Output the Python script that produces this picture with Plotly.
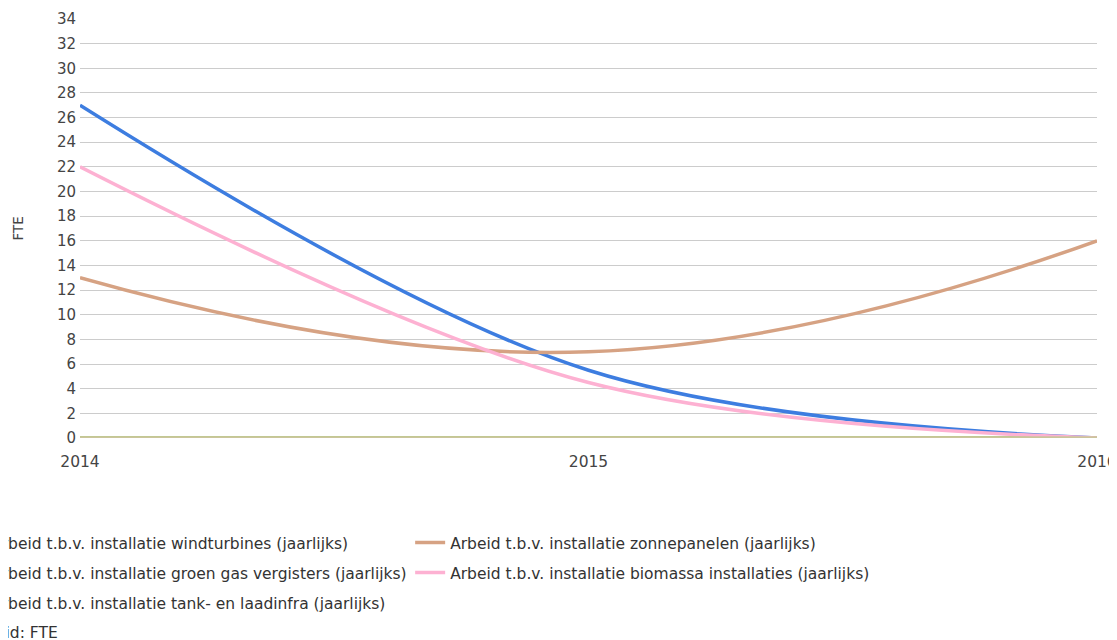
import plotly.graph_objects as go

# Data (FTE per year)
years = [2014, 2015, 2016]
windturbines = [27, 5.5, 0]
zonnepanelen = [13, 7, 16]
groen_gas = [0, 0, 0]
biomassa = [22, 4.5, 0]
tank_laadinfra = [0, 0, 0]

names = [
    "Arbeid t.b.v. installatie windturbines (jaarlijks)",
    "Arbeid t.b.v. installatie zonnepanelen (jaarlijks)",
    "Arbeid t.b.v. installatie groen gas vergisters (jaarlijks)",
    "Arbeid t.b.v. installatie biomassa installaties (jaarlijks)",
    "Arbeid t.b.v. installatie tank- en laadinfra (jaarlijks)",
]
series = [windturbines, zonnepanelen, groen_gas, biomassa, tank_laadinfra]
colors = ["#3d7de0", "#d6a283", "#8bc34a", "#fdb1d2", "#cbc59c"]
smooth = [1.0, 1.3, 1.0, 1.0, 1.0]
legend_rows = ["legend", "legend", "legend2", "legend2", "legend3"]

FONT = "DejaVu Sans, Arial, sans-serif"

fig = go.Figure()
for name, vals, col, sm, lg in zip(names, series, colors, smooth, legend_rows):
    fig.add_trace(go.Scatter(
        x=years, y=vals, name=name, mode="lines", legend=lg,
        line=dict(color=col, width=3.5, shape="spline", smoothing=sm),
    ))

# page body has an 8px margin, so the figure is laid out 8px up/left
legend_style = dict(
    orientation="h", x=-0.1267, xanchor="left", yanchor="middle",
    entrywidth=414, entrywidthmode="pixels",
    font=dict(family=FONT, size=15.5, color="#333"), bgcolor="rgba(0,0,0,0)",
)

fig.update_layout(
    width=1117, height=640,
    margin=dict(l=72, r=28, t=11, b=210, autoexpand=False),
    paper_bgcolor="white", plot_bgcolor="white",
    font=dict(family=FONT, size=15.5, color="#444"),
    showlegend=True,
    legend=dict(legend_style, y=-0.2506),
    legend2=dict(legend_style, y=-0.322),
    legend3=dict(legend_style, y=-0.394),
    annotations=[
        dict(text="Eenheid: FTE", xref="paper", yref="paper",
             x=-0.123, y=-0.465, xanchor="left", yanchor="middle",
             showarrow=False, font=dict(family=FONT, size=15.5, color="#333")),
        dict(text="FTE", xref="paper", yref="paper", textangle=-90,
             x=-0.061, y=0.5, xanchor="center", yanchor="middle",
             showarrow=False, font=dict(family=FONT, size=13.5, color="#444")),
    ],
)
fig.update_xaxes(
    range=[2014, 2016], tickvals=years, ticktext=[str(y) for y in years],
    showgrid=False, zeroline=False, showline=False, automargin=False,
    ticklabelstandoff=12,
    tickfont=dict(family=FONT, size=15.5, color="#444"),
)
fig.update_yaxes(
    range=[0, 34], dtick=2, showgrid=True, gridcolor="#cccccc",
    zeroline=False, showline=False, automargin=False,
    ticks="", ticklabelstandoff=3,
    tickfont=dict(family=FONT, size=15, color="#444"),
)

fig.write_html("out.html")
